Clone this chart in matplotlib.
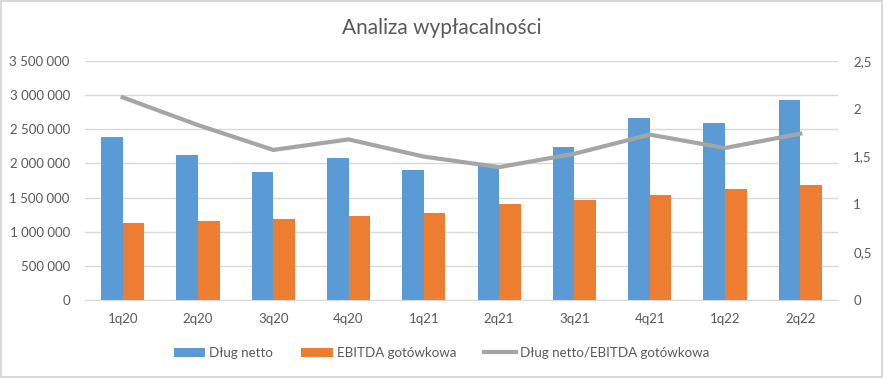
import matplotlib.pyplot as plt
import numpy as np
from matplotlib.ticker import FuncFormatter

plt.rcParams['font.family'] = ['Lato', 'DejaVu Sans']

# Data
quarters = ['1q20', '2q20', '3q20', '4q20', '1q21', '2q21', '3q21', '4q21', '1q22', '2q22']
dlug_netto = [2383000, 2119000, 1870000, 2080000, 1904000, 1977000, 2240000, 2665000, 2592000, 2929000]
ebitda = [1128000, 1157000, 1186000, 1230000, 1274000, 1406000, 1464000, 1538000, 1626000, 1684000]
ratio = [2.12, 1.83, 1.57, 1.68, 1.50, 1.39, 1.53, 1.73, 1.59, 1.74]

blue = '#5B9BD5'
orange = '#ED7D31'
gray = '#A5A5A5'
text_c = '#595959'
grid_c = '#D9D9D9'

fig = plt.figure(figsize=(8.83, 3.78), dpi=100)
fig.patch.set_edgecolor('#D9D9D9')
fig.patch.set_linewidth(1.5)
ax = fig.add_axes([0.0963, 0.2063, 0.8527, 0.6323])

x = np.arange(len(quarters))
w = 0.286
ax.bar(x - w / 2, dlug_netto, w, color=blue, label='Dług netto', zorder=2)
ax.bar(x + w / 2, ebitda, w, color=orange, label='EBITDA gotówkowa', zorder=2)

ax.set_xlim(-0.5, len(quarters) - 0.5)
ax.set_ylim(0, 3500000)
ax.set_yticks(np.arange(0, 3500001, 500000))
ax.yaxis.set_major_formatter(FuncFormatter(lambda v, p: f'{int(v):,}'.replace(',', ' ')))
ax.set_xticks(x)
ax.set_xticklabels(quarters)
ax.grid(axis='y', color=grid_c, linewidth=1, zorder=0)
for s in ['top', 'right', 'left']:
    ax.spines[s].set_visible(False)
ax.spines['bottom'].set_color(grid_c)
ax.tick_params(axis='both', length=0, colors=text_c, labelsize=9.5)
ax.tick_params(axis='y', pad=11)
ax.tick_params(axis='x', pad=9)

ax2 = ax.twinx()
ax2.plot(x, ratio, color=gray, linewidth=3, label='Dług netto/EBITDA gotówkowa', zorder=3)
ax2.set_ylim(0, 2.5)
ax2.set_yticks(np.arange(0, 2.51, 0.5))
ax2.yaxis.set_major_formatter(FuncFormatter(lambda v, p: f'{v:g}'.replace('.', ',')))
for s in ['top', 'right', 'left', 'bottom']:
    ax2.spines[s].set_visible(False)
ax2.tick_params(axis='y', length=0, colors=text_c, labelsize=9.5, pad=11)

fig.text(0.5, 0.925, 'Analiza wypłacalności', ha='center', va='center',
         fontsize=15, color=text_c)

h1, l1 = ax.get_legend_handles_labels()
h2, l2 = ax2.get_legend_handles_labels()
leg = fig.legend(h1 + h2, l1 + l2, loc='center', bbox_to_anchor=(0.5, 0.066),
                 ncol=3, frameon=False, fontsize=9.6, handlelength=2.35,
                 handleheight=0.65, columnspacing=2.1, handletextpad=0.3)
for t in leg.get_texts():
    t.set_color(text_c)

fig.savefig('out.png', dpi=100)
